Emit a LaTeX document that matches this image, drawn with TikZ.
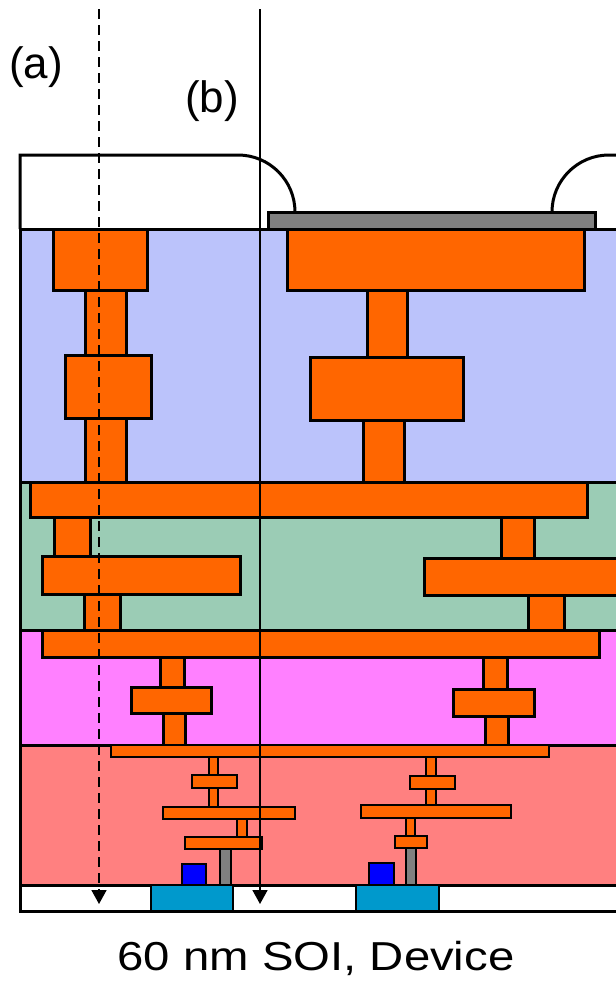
\documentclass[tikz,border=0pt]{standalone}
\usepackage{fontspec}
\setmainfont{Liberation Sans}
\usetikzlibrary{arrows.meta}
\definecolor{ildblue}{RGB}{187,195,251}
\definecolor{ildgreen}{RGB}{155,204,181}
\definecolor{ildpink}{RGB}{255,128,255}
\definecolor{ildred}{RGB}{255,128,128}
\definecolor{cu}{RGB}{255,102,0}
\definecolor{active}{RGB}{0,153,204}
\tikzstyle{layer} = [draw=black, line width=0.6mm]
\tikzstyle{metal} = [fill=cu, draw=black, line width=0.6mm]
\tikzstyle{lowmetal} = [fill=cu, draw=black, line width=0.5mm]
\tikzstyle{probe} = [line width=0.35mm, -{Triangle[width=3mm,length=2.8mm]}]
\tikzstyle{lbl} = [font=\fontsize{25}{30}\selectfont, anchor=base, inner sep=0pt]

\begin{document}
\begin{tikzpicture}[x=0.2mm,y=-0.2mm]
		\useasboundingbox (0,0) rectangle (616,981);
		\clip (0,0) rectangle (616,981);
		\draw[layer,fill=ildblue] (20,229) rectangle (640,482);
		\draw[layer,fill=ildgreen] (20,482) rectangle (640,630);
		\draw[layer,fill=ildpink] (20,630) rectangle (640,745);
		\draw[layer,fill=ildred] (20,745) rectangle (640,885);
		\draw[layer,fill=white] (20,885) rectangle (640,911);
		\draw[metal] (85,290) rectangle (126,355);
		\draw[metal] (85,418) rectangle (126,482);
		\draw[metal] (53,229) rectangle (147,290);
		\draw[metal] (65,355) rectangle (151,418);
		\draw[metal] (367,290) rectangle (407,357);
		\draw[metal] (363,420) rectangle (404,482);
		\draw[metal] (287,229) rectangle (584,290);
		\draw[metal] (310,357) rectangle (463,420);
		\draw[metal] (54,517) rectangle (90,556);
		\draw[metal] (84,594) rectangle (120,630);
		\draw[metal] (501,517) rectangle (534,558);
		\draw[metal] (528,595) rectangle (564,630);
		\draw[metal] (30,482) rectangle (587,517);
		\draw[metal] (42,556) rectangle (240,594);
		\draw[metal] (424,558) rectangle (640,595);
		\draw[metal] (160,657) rectangle (184,687);
		\draw[metal] (163,713) rectangle (185,745);
		\draw[metal] (483,657) rectangle (507,689);
		\draw[metal] (485,716) rectangle (508,745);
		\draw[metal] (42,630) rectangle (599,657);
		\draw[metal] (131,687) rectangle (211,713);
		\draw[metal] (453,689) rectangle (534,716);
		\draw[lowmetal] (209,757) rectangle (218,775);
		\draw[lowmetal] (209,788) rectangle (218,807);
		\draw[lowmetal] (237,819) rectangle (247,837);
		\draw[lowmetal] (426,757) rectangle (436,776);
		\draw[lowmetal] (426,789) rectangle (436,805);
		\draw[lowmetal] (406,818) rectangle (415,836);
		\draw[lowmetal] (111,745) rectangle (549,757);
		\draw[lowmetal] (192,775) rectangle (237,788);
		\draw[lowmetal] (163,807) rectangle (295,819);
		\draw[lowmetal] (185,837) rectangle (262,849);
		\draw[lowmetal] (410,776) rectangle (455,789);
		\draw[lowmetal] (361,805) rectangle (511,818);
		\draw[lowmetal] (395,836) rectangle (427,848);
		\draw[lowmetal,fill=gray] (220,849) rectangle (231,885);
		\draw[lowmetal,fill=gray] (406,848) rectangle (416,885);
		\draw[lowmetal,fill=blue] (182,864) rectangle (206,885);
		\draw[lowmetal,fill=blue] (369,863) rectangle (394,885);
		\draw[lowmetal,fill=active] (151,885) rectangle (233,911);
		\draw[lowmetal,fill=active] (356,885) rectangle (439,911);
		\draw[layer,fill=gray] (268,212) rectangle (595,229);
		\draw[layer] (20,229) -- (20,155) -- (238,155) .. controls (269.5,155) and (295,180.5) .. (295,212);
		\draw[layer] (552,212) .. controls (552,180.5) and (577.5,155) .. (609,155) -- (640,155);
		\node[lbl] (a) at (36,78) {(a)};
		\node[lbl] (b) at (212,112) {(b)};
		\node[lbl,font=\fontsize{23}{28}\selectfont,xscale=1.17] (dev) at (316,970) {60 nm SOI, Device};
		\coordinate (a0) at (99,9);
		\coordinate (a1) at (99,904);
		\coordinate (b0) at (260,9);
		\coordinate (b1) at (260,904);
		\draw[probe,dash pattern=on 2mm off 1.2mm] (a0) -- (a1);
		\draw[probe] (b0) -- (b1);
\end{tikzpicture}
\end{document}
